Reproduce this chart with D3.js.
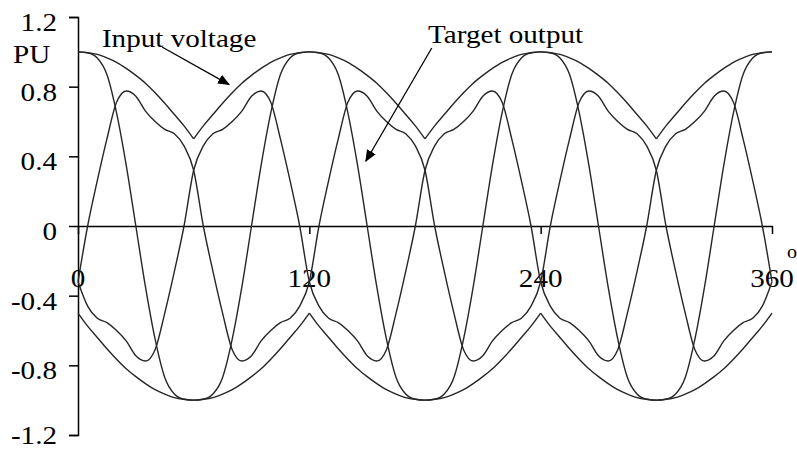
<!DOCTYPE html>
<html>
<head>
<meta charset="utf-8">
<script src="https://cdn.jsdelivr.net/npm/d3@7/dist/d3.min.js"></script>
<style>
  body { margin: 0; background: #fff; }
  svg { display: block; }
  text { font-family: "Liberation Serif", "Times New Roman", serif; fill: #000; }
</style>
</head>
<body>
<svg id="chart" width="797" height="451"></svg>
<script>
// Sample angles (degrees) for every series below
const angles = d3.range(0, 361, 5);

// Input voltage envelope (upper and lower), PU
const inputUpper = [
  1.00, 0.995, 0.985, 0.965, 0.94, 0.905, 0.865, 0.82, 0.765, 0.705, 0.64, 0.575,
  0.50, 0.575, 0.64, 0.705, 0.765, 0.82, 0.865, 0.905, 0.94, 0.965, 0.985, 0.995,
  1.00, 0.995, 0.985, 0.965, 0.94, 0.905, 0.865, 0.82, 0.765, 0.705, 0.64, 0.575,
  0.50, 0.575, 0.64, 0.705, 0.765, 0.82, 0.865, 0.905, 0.94, 0.965, 0.985, 0.995,
  1.00, 0.995, 0.985, 0.965, 0.94, 0.905, 0.865, 0.82, 0.765, 0.705, 0.64, 0.575,
  0.50, 0.575, 0.64, 0.705, 0.765, 0.82, 0.865, 0.905, 0.94, 0.965, 0.985, 0.995,
  1.00
];
const inputLower = [
  -0.50, -0.575, -0.64, -0.705, -0.765, -0.82, -0.865, -0.905, -0.94, -0.965, -0.985, -0.995,
  -1.00, -0.995, -0.985, -0.965, -0.94, -0.905, -0.865, -0.82, -0.765, -0.705, -0.64, -0.575,
  -0.50, -0.575, -0.64, -0.705, -0.765, -0.82, -0.865, -0.905, -0.94, -0.965, -0.985, -0.995,
  -1.00, -0.995, -0.985, -0.965, -0.94, -0.905, -0.865, -0.82, -0.765, -0.705, -0.64, -0.575,
  -0.50, -0.575, -0.64, -0.705, -0.765, -0.82, -0.865, -0.905, -0.94, -0.965, -0.985, -0.995,
  -1.00, -0.995, -0.985, -0.965, -0.94, -0.905, -0.865, -0.82, -0.765, -0.705, -0.64, -0.575,
  -0.50
];
// Angles where the envelope arcs meet in a sharp corner
const upperCusps = [60, 180, 300];
const lowerCusps = [0, 120, 240, 360];

// Target output waveforms, PU
const outputA = [
  1.00, 0.995, 0.965, 0.87, 0.65, 0.35, 0.00, -0.35, -0.65, -0.87, -0.965, -0.995,
  -1.00, -0.995, -0.965, -0.87, -0.65, -0.35, 0.00, 0.35, 0.65, 0.87, 0.965, 0.995,
  1.00, 0.995, 0.965, 0.87, 0.65, 0.35, 0.00, -0.35, -0.65, -0.87, -0.965, -0.995,
  -1.00, -0.995, -0.965, -0.87, -0.65, -0.35, 0.00, 0.35, 0.65, 0.87, 0.965, 0.995,
  1.00, 0.995, 0.965, 0.87, 0.65, 0.35, 0.00, -0.35, -0.65, -0.87, -0.965, -0.995,
  -1.00, -0.995, -0.965, -0.87, -0.65, -0.35, 0.00, 0.35, 0.65, 0.87, 0.965, 0.995,
  1.00
];
const outputB = [
  -0.32, 0.00, 0.26, 0.50, 0.71, 0.775, 0.745, 0.66, 0.60, 0.555, 0.53, 0.46,
  0.32, 0.00, -0.26, -0.50, -0.71, -0.775, -0.745, -0.66, -0.60, -0.555, -0.53, -0.46,
  -0.32, 0.00, 0.26, 0.50, 0.71, 0.775, 0.745, 0.66, 0.60, 0.555, 0.53, 0.46,
  0.32, 0.00, -0.26, -0.50, -0.71, -0.775, -0.745, -0.66, -0.60, -0.555, -0.53, -0.46,
  -0.32, 0.00, 0.26, 0.50, 0.71, 0.775, 0.745, 0.66, 0.60, 0.555, 0.53, 0.46,
  0.32, 0.00, -0.26, -0.50, -0.71, -0.775, -0.745, -0.66, -0.60, -0.555, -0.53, -0.46,
  -0.32
];
const outputC = [
  -0.32, -0.46, -0.53, -0.555, -0.60, -0.66, -0.745, -0.775, -0.71, -0.50, -0.26, 0.00,
  0.32, 0.46, 0.53, 0.555, 0.60, 0.66, 0.745, 0.775, 0.71, 0.50, 0.26, 0.00,
  -0.32, -0.46, -0.53, -0.555, -0.60, -0.66, -0.745, -0.775, -0.71, -0.50, -0.26, 0.00,
  0.32, 0.46, 0.53, 0.555, 0.60, 0.66, 0.745, 0.775, 0.71, 0.50, 0.26, 0.00,
  -0.32, -0.46, -0.53, -0.555, -0.60, -0.66, -0.745, -0.775, -0.71, -0.50, -0.26, 0.00,
  0.32, 0.46, 0.53, 0.555, 0.60, 0.66, 0.745, 0.775, 0.71, 0.50, 0.26, 0.00,
  -0.32
];

// Axis ticks and labels
const yTicks = [-1.2, -0.8, -0.4, 0, 0.4, 0.8, 1.2];
const yTickLabels = ["-1.2", "-0.8", "-0.4", "0", "0.4", "0.8", "1.2"];
const xTicks = [0, 120, 240, 360];
const xTickLabels = ["0", "120", "240", "360"];
const yUnit = "PU";
const xUnit = "o";

// Callouts: label text, label anchor and arrow from/to, in data units (deg, PU)
const callouts = [
  { text: "Input voltage", at: [12.4, 1.028], from: [43.6, 1.028], to: [78.4, 0.812] },
  { text: "Target output", at: [181.6, 1.051], from: [183.5, 1.022], to: [149.3, 0.372] }
];

const W = 797, H = 451;
const svg = d3.select("#chart");
const x = d3.scaleLinear().domain([0, 360]).range([78, 772]);
const y = d3.scaleLinear().domain([-1.2, 1.2]).range([435, 17]);

const FONT = 26, STRETCH = 1.12;
function label(g, txt, px, py, anchor, size) {
  return g.append("text")
    .attr("transform", `translate(${px},${py}) scale(${STRETCH},1)`)
    .attr("text-anchor", anchor)
    .style("font-size", (size || FONT) + "px")
    .text(txt);
}

// Axes
svg.append("g")
  .attr("transform", `translate(${x(0)},0)`)
  .call(d3.axisLeft(y).tickValues(yTicks).tickSize(9).tickSizeOuter(9).tickFormat(""));
svg.append("g")
  .attr("transform", `translate(0,${y(0)})`)
  .call(d3.axisBottom(x).tickValues(xTicks).tickSize(8).tickSizeOuter(0).tickFormat(""));
svg.selectAll(".domain, .tick line").attr("stroke", "#000").attr("stroke-width", 1.5);

// Tick labels sit a little below their ticks, kept inside the canvas
const labels = svg.append("g");
yTicks.forEach((v, i) => label(labels, yTickLabels[i], 57, Math.min(y(v) + 14, H - 7), "end"));
xTicks.forEach((v, i) => label(labels, xTickLabels[i], x(v), 287, "middle"));
label(labels, yUnit, 13, 63, "start");
label(labels, xUnit, 792, 258, "middle", 18);

// Curves
const plot = svg.append("g").attr("fill", "none").attr("stroke", "#262626").attr("stroke-width", 1.4);
const line = d3.line().x(d => x(d[0])).y(d => y(d[1])).curve(d3.curveMonotoneX);

function pairs(values) { return angles.map((a, i) => [a, values[i]]); }
// Split a series into arcs at the given corner angles
function arcs(values, cusps) {
  const pts = pairs(values), out = [];
  let cur = [];
  pts.forEach(p => {
    cur.push(p);
    if (cusps.includes(p[0]) && cur.length > 1) { out.push(cur); cur = [p]; }
  });
  if (cur.length > 1) out.push(cur);
  return out;
}

arcs(inputUpper, upperCusps).forEach(seg => plot.append("path").attr("d", line(seg)));
arcs(inputLower, lowerCusps).forEach(seg => plot.append("path").attr("d", line(seg)));
[outputA, outputB, outputC].forEach(s => plot.append("path").attr("d", line(pairs(s))));

// Callout arrows
svg.append("defs").append("marker")
  .attr("id", "head").attr("markerUnits", "userSpaceOnUse")
  .attr("markerWidth", 12).attr("markerHeight", 10)
  .attr("refX", 11).attr("refY", 5).attr("orient", "auto")
  .append("path").attr("d", "M0,0L12,5L0,10Z").attr("fill", "#000");

const notes = svg.append("g");
callouts.forEach(c => {
  notes.append("line")
    .attr("x1", x(c.from[0])).attr("y1", y(c.from[1]))
    .attr("x2", x(c.to[0])).attr("y2", y(c.to[1]))
    .attr("stroke", "#000").attr("stroke-width", 1.3)
    .attr("marker-end", "url(#head)");
  label(notes, c.text, x(c.at[0]), y(c.at[1]), "start");
});
</script>
</body>
</html>
